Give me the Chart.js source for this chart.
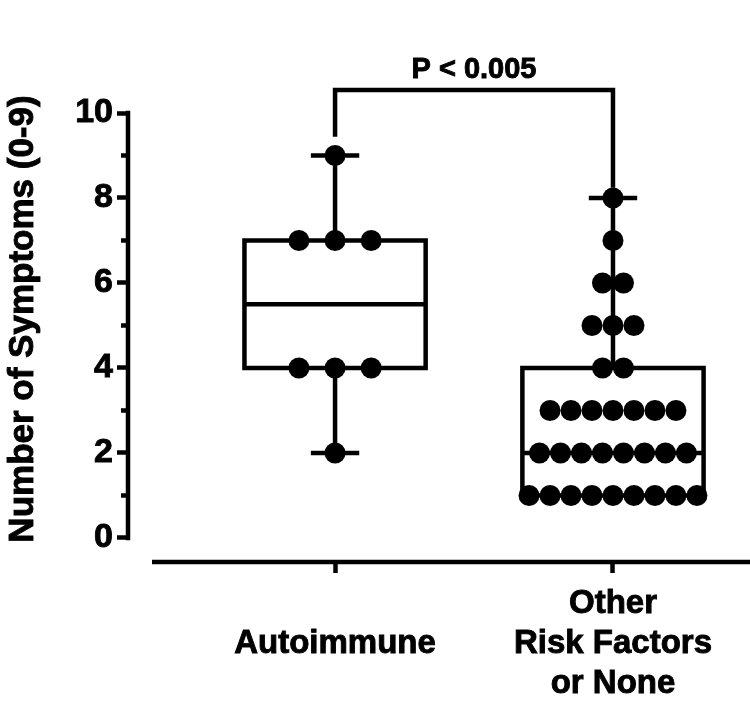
<!DOCTYPE html>
<html>
<head>
<meta charset="utf-8">
<script src="https://cdn.jsdelivr.net/npm/chart.js@4.4.1/dist/chart.umd.min.js"></script>
<style>
  html, body { margin: 0; padding: 0; background: #fff; }
  #wrap { width: 750px; height: 707px; }
</style>
</head>
<body>
<div id="wrap"><canvas id="chart"></canvas></div>
<script>
// values
const CATEGORY_LABELS = [["Autoimmune"], ["Other", "Risk Factors", "or None"]];
const AUTOIMMUNE = [9, 7, 7, 7, 4, 4, 4, 2];
const OTHER = [8, 7, 6, 6, 5, 5, 5, 4, 4, 3, 3, 3, 3, 3, 3, 3, 2, 2, 2, 2, 2, 2, 2, 2, 1, 1, 1, 1, 1, 1, 1, 1, 1];
const Y_TICK_LABELS = [0, 2, 4, 6, 8, 10];
const Y_TITLE = "Number of Symptoms (0-9)";
const P_TEXT = "P < 0.005";

/* ---------------------------- styling ---------------------------- */

const FONT = '"Liberation Sans", Arial, Helvetica, sans-serif';
const LINE_W = 4.5;
const TEXT_STROKE = 0.9;    // thickens the bold glyphs a little
const BOX_HALF = 0.326;     // half box width, x units
const CAP_HALF = 0.087;     // half whisker cap width, x units
const DOT_STEP = [0.13, 0.0755];
const DOT_R = 10.5;
const X_AXIS_GAP = 24;      // px between y spine and start of x spine
const MINOR_TICK = 7;
const BRACKET_TOP = 10.54;
const BRACKET_LEGS = [9.44, 8.24];

Chart.defaults.font.family = FONT;
Chart.defaults.color = "#000";

/* ---------------------------- box stats ---------------------------- */

function quantile(sorted, p) {
  const pos = (sorted.length + 1) * p;
  const lo = Math.floor(pos);
  const frac = pos - lo;
  if (lo < 1) return sorted[0];
  if (lo >= sorted.length) return sorted[sorted.length - 1];
  return sorted[lo - 1] + frac * (sorted[lo] - sorted[lo - 1]);
}

function boxStats(values) {
  const s = [...values].sort((a, b) => a - b);
  return { min: s[0], q1: quantile(s, 0.25), med: quantile(s, 0.5), q3: quantile(s, 0.75), max: s[s.length - 1] };
}

const gap = () => ({ x: null, y: null });

function boxOutline(cx, st) {
  const l = cx - BOX_HALF, r = cx + BOX_HALF;
  return [
    { x: cx, y: st.q1 }, { x: r, y: st.q1 }, { x: r, y: st.q3 }, { x: l, y: st.q3 }, { x: l, y: st.q1 }, { x: cx, y: st.q1 }, gap(),
    { x: l, y: st.med }, { x: r, y: st.med }, gap(),
    { x: cx, y: st.q3 }, { x: cx, y: st.max }, gap(),
    { x: cx - CAP_HALF, y: st.max }, { x: cx + CAP_HALF, y: st.max }, gap(),
    { x: cx, y: st.q1 }, { x: cx, y: st.min }, gap(),
    { x: cx - CAP_HALF, y: st.min }, { x: cx + CAP_HALF, y: st.min }
  ];
}

// spread tied values side by side, centred on the group
function swarm(cx, values, step) {
  const counts = new Map();
  values.forEach((v) => counts.set(v, (counts.get(v) || 0) + 1));
  const pts = [];
  counts.forEach((n, v) => {
    for (let i = 0; i < n; i++) pts.push({ x: cx + (i - (n - 1) / 2) * step, y: v });
  });
  return pts;
}

const groups = [AUTOIMMUNE, OTHER];

const datasets = [];
groups.forEach((vals, i) => {
  datasets.push({
    data: swarm(i + 1, vals, DOT_STEP[i]),
    backgroundColor: "#000",
    borderWidth: 0,
    pointRadius: DOT_R,
    order: 0,
    clip: false
  });
});
groups.forEach((vals, i) => {
  datasets.push({
    data: boxOutline(i + 1, boxStats(vals)),
    showLine: true,
    spanGaps: false,
    borderColor: "#000",
    borderWidth: LINE_W,
    borderJoinStyle: "miter",
    pointRadius: 0,
    order: 1,
    clip: false
  });
});

const isMajor = (v) => Y_TICK_LABELS.includes(v);

/* ---------------------------- axes, bracket, titles ---------------------------- */

function heavyText(ctx, text, x, y) {
  ctx.fillText(text, x, y);
  ctx.lineWidth = TEXT_STROKE;
  ctx.strokeText(text, x, y);
}

const decorations = {
  id: "decorations",
  afterDraw(chart) {
    const { ctx, chartArea, scales: { x, y } } = chart;
    ctx.save();
    ctx.strokeStyle = "#000";
    ctx.fillStyle = "#000";
    ctx.lineWidth = LINE_W;
    ctx.lineCap = "butt";
    ctx.lineJoin = "miter";

    // y spine only spans 0..10, x spine starts a little right of it
    ctx.beginPath();
    ctx.moveTo(chartArea.left, y.getPixelForValue(10) - LINE_W / 2);
    ctx.lineTo(chartArea.left, y.getPixelForValue(0) + LINE_W / 2);
    ctx.stroke();

    ctx.beginPath();
    ctx.moveTo(chartArea.left + X_AXIS_GAP, chartArea.bottom);
    ctx.lineTo(chartArea.right, chartArea.bottom);
    ctx.stroke();

    // shorter minor ticks
    y.ticks.filter((t) => !isMajor(t.value)).forEach((t) => {
      const py = y.getPixelForValue(t.value);
      ctx.beginPath();
      ctx.moveTo(chartArea.left - MINOR_TICK, py);
      ctx.lineTo(chartArea.left, py);
      ctx.stroke();
    });

    const bx1 = x.getPixelForValue(1), bx2 = x.getPixelForValue(2);
    const by = y.getPixelForValue(BRACKET_TOP);
    ctx.beginPath();
    ctx.moveTo(bx1, y.getPixelForValue(BRACKET_LEGS[0]));
    ctx.lineTo(bx1, by);
    ctx.lineTo(bx2, by);
    ctx.lineTo(bx2, y.getPixelForValue(BRACKET_LEGS[1]));
    ctx.stroke();

    ctx.font = `bold 29px ${FONT}`;
    ctx.textAlign = "center";
    ctx.textBaseline = "alphabetic";
    heavyText(ctx, P_TEXT, (bx1 + bx2) / 2, by - 12);

    ctx.translate(33, 319);
    ctx.rotate(-Math.PI / 2);
    ctx.font = `bold 35px ${FONT}`;
    heavyText(ctx, Y_TITLE, 0, 0);
    ctx.restore();
  }
};

new Chart(document.getElementById("chart"), {
  type: "scatter",
  data: { datasets },
  plugins: [decorations],
  options: {
    responsive: true,
    maintainAspectRatio: false,
    animation: false,
    layout: { autoPadding: false, padding: { top: 113, right: 0, bottom: 0, left: 0 } },
    plugins: { legend: { display: false }, tooltip: { enabled: false } },
    scales: {
      x: {
        type: "linear",
        min: 0.255,
        max: 2.493,
        afterBuildTicks: (scale) => { scale.ticks = CATEGORY_LABELS.map((_, i) => ({ value: i + 1 })); },
        afterFit: (scale) => { scale.height = 145; },
        ticks: {
          callback: (v) => CATEGORY_LABELS[v - 1],
          font: { size: 33, weight: "bold", lineHeight: "40px" },
          color: "#000",
          textStrokeColor: "#000",
          textStrokeWidth: TEXT_STROKE,
          padding: 31,
          maxRotation: 0,
          autoSkip: false,
          crossAlign: "center"
        },
        grid: { drawOnChartArea: false, drawTicks: true, tickLength: 11, tickWidth: LINE_W, tickColor: "#000" },
        border: { display: false }
      },
      y: {
        type: "linear",
        min: -0.565,
        max: 10,
        afterBuildTicks: (scale) => {
          const t = [];
          for (let v = 0; v <= 10; v++) t.push({ value: v });
          scale.ticks = t;
        },
        afterFit: (scale) => { scale.width = 128; },
        ticks: {
          callback: (v) => (isMajor(v) ? String(v) : ""),
          font: { size: 34, weight: "bold" },
          color: "#000",
          textStrokeColor: "#000",
          textStrokeWidth: TEXT_STROKE,
          padding: 4,
          autoSkip: false
        },
        grid: {
          drawOnChartArea: false,
          drawTicks: true,
          tickLength: 11,
          tickWidth: LINE_W,
          tickColor: (c) => (c.tick && !isMajor(c.tick.value) ? "rgba(0,0,0,0)" : "#000")
        },
        border: { display: false }
      }
    }
  }
});
</script>
</body>
</html>
